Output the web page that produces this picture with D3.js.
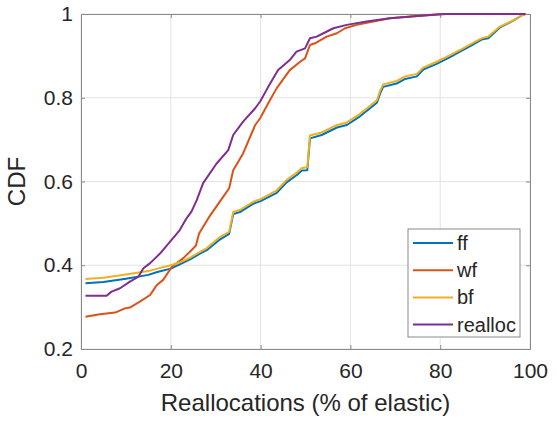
<!DOCTYPE html>
<html>
<head>
<meta charset="utf-8">
<script src="https://cdn.jsdelivr.net/npm/d3@7"></script>
<style>
    body { margin: 0; background: #fff; }
    text { font-family: "Liberation Sans", Arial, Helvetica, sans-serif; fill: #262626; }
</style>
</head>
<body>
<div id="chart"></div>
<script>

// values (x = % of elastic, y = CDF)
let ffX = [1, 5, 10, 15, 17, 20, 22, 24.3, 26.5, 28, 31, 33, 33.9, 35.4, 38.4, 40, 43.6, 45.8, 48, 49.2, 50.4, 51, 53.6, 57, 59.2, 61.8, 65.9, 66.6, 67.3, 70.3, 72.2, 74.8, 76.2, 79.2, 82.2, 84.4, 87, 89.2, 90.7, 93.3, 96.3, 98.2, 99];
let ffY = [0.357, 0.360, 0.368, 0.377, 0.384, 0.392, 0.402, 0.414, 0.428, 0.436, 0.462, 0.475, 0.522, 0.527, 0.547, 0.553, 0.573, 0.598, 0.615, 0.626, 0.627, 0.703, 0.711, 0.729, 0.735, 0.753, 0.788, 0.810, 0.826, 0.834, 0.845, 0.851, 0.867, 0.881, 0.897, 0.910, 0.925, 0.939, 0.942, 0.968, 0.984, 0.997, 1.0];

let bfX = ffX;
let bfY = [0.367, 0.370, 0.378, 0.386, 0.392, 0.400, 0.407, 0.418, 0.432, 0.441, 0.468, 0.480, 0.527, 0.532, 0.552, 0.558, 0.579, 0.604, 0.621, 0.632, 0.634, 0.710, 0.717, 0.735, 0.741, 0.759, 0.794, 0.816, 0.832, 0.840, 0.851, 0.857, 0.872, 0.886, 0.902, 0.914, 0.929, 0.942, 0.946, 0.970, 0.985, 0.997, 1.0];

let wfX = [1, 4.2, 7.6, 9.8, 10.9, 13.1, 15.4, 16.9, 18.3, 20.3, 22.8, 24.6, 25.6, 26.3, 28.7, 31.7, 33, 33.9, 36.1, 38.8, 39.9, 41.7, 43.6, 46.5, 48.8, 49.9, 51, 52.1, 54.7, 57, 58.8, 61.4, 65.1, 68.8, 75.1, 80, 99];
let wfY = [0.277, 0.283, 0.287, 0.297, 0.299, 0.313, 0.329, 0.353, 0.365, 0.397, 0.417, 0.436, 0.447, 0.476, 0.518, 0.564, 0.584, 0.627, 0.667, 0.735, 0.751, 0.787, 0.823, 0.866, 0.886, 0.894, 0.926, 0.930, 0.946, 0.954, 0.966, 0.974, 0.982, 0.990, 0.995, 1.0, 1.0];

let reX = [1, 5.7, 6.8, 8.7, 10.9, 12.8, 13.9, 15.4, 17.6, 19.8, 22, 23.5, 24.6, 25.8, 27.2, 30.2, 32.8, 33.9, 36.1, 38.8, 39.9, 41.7, 43.9, 46.5, 48, 49.9, 51, 52.5, 54, 56.2, 59.2, 63.6, 68.8, 74.8, 81.4, 99];
let reY = [0.327, 0.327, 0.337, 0.345, 0.361, 0.373, 0.393, 0.405, 0.428, 0.456, 0.484, 0.512, 0.528, 0.556, 0.596, 0.643, 0.675, 0.711, 0.743, 0.775, 0.791, 0.826, 0.866, 0.890, 0.910, 0.918, 0.942, 0.946, 0.954, 0.966, 0.974, 0.982, 0.990, 0.995, 1.0, 1.0];

let seriesNames = ["ff", "wf", "bf", "realloc"];
let seriesColors = ["#0072BD", "#D95319", "#EDB120", "#7E2F8E"];
let xTicks = [0, 20, 40, 60, 80, 100];
let yTicks = [0.2, 0.4, 0.6, 0.8, 1];

let series = [
    { name: seriesNames[0], color: seriesColors[0], x: ffX, y: ffY },
    { name: seriesNames[1], color: seriesColors[1], x: wfX, y: wfY },
    { name: seriesNames[2], color: seriesColors[2], x: bfX, y: bfY },
    { name: seriesNames[3], color: seriesColors[3], x: reX, y: reY }
];

let margin = { top: 14, right: 27, bottom: 72, left: 81 };
let width = 557 - margin.left - margin.right,
    height = 421 - margin.top - margin.bottom;

let svg = d3.select("#chart").append("svg")
    .attr("width", 557)
    .attr("height", 421)
    .append("g")
    .attr("transform", "translate(" + margin.left + "," + margin.top + ")");

let x = d3.scaleLinear().domain([0, 100]).range([0, width]);
let y = d3.scaleLinear().domain([0.2, 1]).range([height, 0]);

// grid
svg.append("g")
    .selectAll("line.gx")
    .data(xTicks)
    .enter().append("line")
    .attr("x1", d => x(d)).attr("x2", d => x(d))
    .attr("y1", 0).attr("y2", height)
    .attr("stroke", "#e3e3e3").attr("stroke-width", 1);

svg.append("g")
    .selectAll("line.gy")
    .data(yTicks)
    .enter().append("line")
    .attr("x1", 0).attr("x2", width)
    .attr("y1", d => y(d)).attr("y2", d => y(d))
    .attr("stroke", "#e3e3e3").attr("stroke-width", 1);

// axes, ticks pointing inward (MATLAB style)
let xAxis = d3.axisBottom(x).tickValues(xTicks).tickSize(-4).tickPadding(14).tickFormat(d3.format("d"));
let xAxisTop = d3.axisTop(x).tickValues(xTicks).tickSize(-4).tickFormat("");
let yAxis = d3.axisLeft(y).tickValues(yTicks).tickSize(-4).tickPadding(8).tickFormat(d => d === 1 ? "1" : d3.format(".1f")(d));
let yAxisRight = d3.axisRight(y).tickValues(yTicks).tickSize(-4).tickFormat("");

function styleAxis(g) {
    g.select(".domain").attr("stroke", "#8a8a8a");
    g.selectAll(".tick line").attr("stroke", "#8a8a8a");
    g.selectAll(".tick text")
        .style("font-family", "'Liberation Sans', Arial, Helvetica, sans-serif")
        .style("font-size", "21px")
        .attr("fill", "#262626");
}

svg.append("g").attr("transform", "translate(0," + height + ")").call(xAxis).call(styleAxis);
svg.append("g").call(xAxisTop).call(styleAxis);
svg.append("g").call(yAxis).call(styleAxis);
svg.append("g").attr("transform", "translate(" + width + ",0)").call(yAxisRight).call(styleAxis);

// curves
let line = d3.line()
    .x(d => x(d[0]))
    .y(d => y(d[1]));

series.forEach(function (s) {
    svg.append("path")
        .datum(d3.zip(s.x, s.y))
        .attr("d", line)
        .attr("fill", "none")
        .attr("stroke", s.color)
        .attr("stroke-width", 2)
        .attr("stroke-linejoin", "round");
});

// axis titles
svg.append("text")
    .attr("x", width / 2)
    .attr("y", height + 62)
    .attr("text-anchor", "middle")
    .style("font-size", "24px")
    .text("Reallocations (% of elastic)");

svg.append("text")
    .attr("transform", "translate(" + (-56) + "," + (height / 2) + ") rotate(-90)")
    .attr("text-anchor", "middle")
    .style("font-size", "24px")
    .text("CDF");

// legend
let legend = svg.append("g")
    .attr("transform", "translate(" + (width - 122) + "," + (height - 120) + ")");

legend.append("rect")
    .attr("width", 112).attr("height", 108)
    .attr("fill", "#fff")
    .attr("stroke", "#8a8a8a").attr("stroke-width", 1);

series.forEach(function (s, i) {
    let ly = 14 + i * 27.2;
    legend.append("line")
        .attr("x1", 5).attr("x2", 45)
        .attr("y1", ly).attr("y2", ly)
        .attr("stroke", s.color).attr("stroke-width", 2);
    legend.append("text")
        .attr("x", 49).attr("y", ly)
        .attr("dy", "0.35em")
        .style("font-size", "20px")
        .text(s.name);
});

</script>
</body>
</html>
